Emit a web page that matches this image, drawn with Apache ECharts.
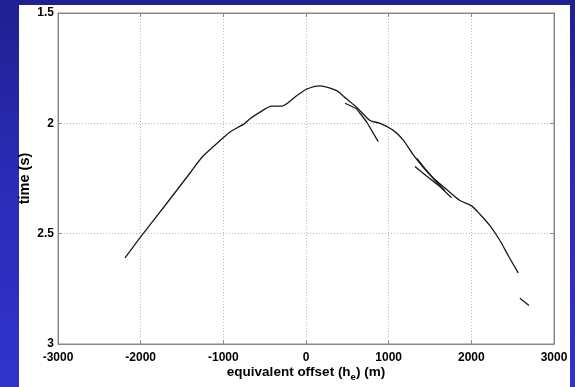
<!DOCTYPE html>
<html>
<head>
<meta charset="utf-8">
<script src="https://cdn.jsdelivr.net/npm/echarts@6/dist/echarts.min.js"></script>
<style>
  html, body { margin: 0; padding: 0; width: 575px; height: 387px; overflow: hidden;
    background: linear-gradient(180deg, #202092 0%, #2a2bb6 45%, #3233cc 100%); }
  #panel { position: absolute; left: 19px; top: 5px; width: 551px; height: 382px; background: #ffffff; }
  #chart { position: absolute; left: 0; top: 0; width: 575px; height: 387px; }
</style>
</head>
<body>
<div id="panel"></div>
<div id="chart"></div>
<script>
// Axis ticks
const xTicks = [-3000, -2000, -1000, 0, 1000, 2000, 3000];
const yTicks = [1.5, 2, 2.5, 3];

// Traveltime picks: equivalent offset (m) and time (s), one pair of arrays per segment
const mainOffset = [-2189, -2000, -1700, -1403, -1250, -1012, -919, -738, -677, -556, -415, -294, -113, 8, 169, 371, 492, 613, 774, 895, 1056, 1177, 1298, 1418, 1539, 1701, 1862, 2003, 2104, 2225, 2346, 2446, 2567];
const mainTime   = [2.61, 2.515, 2.37, 2.225, 2.15, 2.069, 2.039, 2.0, 1.979, 1.949, 1.922, 1.922, 1.875, 1.845, 1.830, 1.852, 1.89, 1.927, 1.987, 2.0, 2.032, 2.076, 2.143, 2.199, 2.248, 2.300, 2.350, 2.374, 2.412, 2.464, 2.531, 2.599, 2.678];

const branchAOffset = [472, 613, 734, 874];
const branchATime   = [1.909, 1.934, 1.994, 2.083];

const branchBOffset = [1318, 1450, 1600, 1761];
const branchBTime   = [2.196, 2.236, 2.280, 2.337];

const branchCOffset = [1338, 1440, 1560, 1680];
const branchCTime   = [2.158, 2.205, 2.258, 2.305];

const tailOffset = [2588, 2697];
const tailTime   = [2.793, 2.826];

const segments = [
  [mainOffset, mainTime],
  [branchAOffset, branchATime],
  [branchBOffset, branchBTime],
  [branchCOffset, branchCTime],
  [tailOffset, tailTime]
];

const font = 'Liberation Sans, Arial, sans-serif';
const lab = { fontFamily: font, fontWeight: 'bold', fontSize: 12, color: '#000' };
const ttl = { fontFamily: font, fontWeight: 'bold', fontSize: 13.5, color: '#000' };
const gridLine = { show: true, lineStyle: { color: '#bbbbbb', type: [1, 2], width: 1 } };
const frame = { show: true, onZero: false, lineStyle: { color: '#888' } };
const ticks = { show: true, inside: true, length: 4, lineStyle: { color: '#888' } };

const chart = echarts.init(document.getElementById('chart'), null, { renderer: 'canvas' });
chart.setOption({
  backgroundColor: 'transparent',
  animation: false,
  grid: { left: 58, top: 13, right: 21, bottom: 39, show: true, borderColor: '#888', borderWidth: 1, backgroundColor: '#fff' },
  xAxis: [{
    type: 'value', min: xTicks[0], max: xTicks[xTicks.length - 1], interval: 1000,
    axisLine: frame, axisTick: ticks,
    axisLabel: Object.assign({ margin: 8, formatter: v => String(v) }, lab),
    splitLine: gridLine,
    name: '{a|equivalent offset (h}{s|e}{a|) (m)}',
    nameLocation: 'middle', nameGap: 21, nameMoveOverlap: false,
    nameTextStyle: {
      rich: {
        a: Object.assign({ verticalAlign: 'top', lineHeight: 16 }, ttl),
        s: Object.assign({}, ttl, { fontSize: 9.5, padding: [7, 0, 0, 0], verticalAlign: 'top', lineHeight: 12 })
      }
    }
  }, {
    type: 'value', position: 'top', min: xTicks[0], max: xTicks[xTicks.length - 1], interval: 1000,
    axisLine: frame, axisTick: ticks, axisLabel: { show: false }, splitLine: { show: false }
  }],
  yAxis: [{
    type: 'value', inverse: true, min: yTicks[0], max: yTicks[yTicks.length - 1], interval: 0.5,
    axisLine: frame, axisTick: ticks,
    axisLabel: Object.assign({ margin: 4, formatter: v => String(v) }, lab),
    splitLine: gridLine,
    name: 'time (s)', nameLocation: 'middle', nameGap: 26, nameMoveOverlap: false,
    nameTextStyle: Object.assign({}, ttl, { fontSize: 14.5 })
  }, {
    type: 'value', position: 'right', inverse: true, min: yTicks[0], max: yTicks[yTicks.length - 1], interval: 0.5,
    axisLine: frame, axisTick: ticks, axisLabel: { show: false }, splitLine: { show: false }
  }],
  series: segments.map(([xs, ys], k) => ({
    type: 'line',
    data: xs.map((x, i) => [x, ys[i]]),
    showSymbol: false,
    smooth: k === 0 ? 0.25 : false,
    lineStyle: { color: '#1a1a1a', width: 1.3 }
  }))
});
</script>
</body>
</html>
